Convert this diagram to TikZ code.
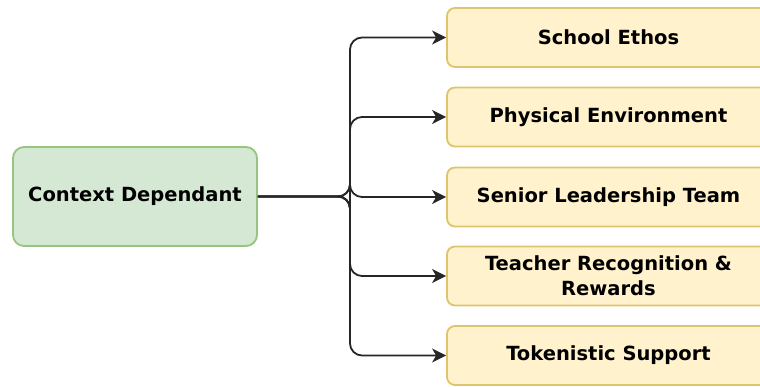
\documentclass[tikz,border=0pt]{standalone}
\usepackage{fontspec}
\setmainfont{DejaVu Sans}
\usetikzlibrary{arrows.meta}

\definecolor{ctxfill}{HTML}{D5E8D4}
\definecolor{ctxline}{HTML}{97C47E}
\definecolor{boxfill}{HTML}{FFF2CC}
\definecolor{boxline}{HTML}{E0C36E}

\begin{document}
\begin{tikzpicture}[x=1pt, y=-1pt,
    ctxnode/.style={draw=ctxline, fill=ctxfill, line width=1.8, rounded corners=11,
      minimum width=244, minimum height=99, inner sep=0,
      font=\bfseries\fontsize{19.5}{25}\selectfont},
    factor/.style={draw=boxline, fill=boxfill, line width=1.8, rounded corners=8,
      minimum width=323, minimum height=59, inner sep=0, align=center,
      font=\bfseries\fontsize{19.5}{25}\selectfont},
    link/.style={draw=black!85, line width=1.8, rounded corners=12,
      -{Stealth[length=14pt, width=14pt, inset=4pt]}}]
  \clip (0,0) rectangle (760,387);

  \node[ctxnode] (ctx) at (135,196.5) {Context Dependant};
  \coordinate (fork) at (350,196.5);

  \foreach \y/\name/\txt in {37.5/ethos/{School Ethos},
      117/environment/{Physical Environment},
      197/leadership/{Senior Leadership Team},
      276/recognition/{Teacher Recognition \&\\Rewards},
      355.5/tokenistic/{Tokenistic Support}} {%
    \node[factor] (\name) at (608.5,\y) {\txt};
    \draw[link] (ctx.east) -- (fork) |- (\name.west);
  }%
\end{tikzpicture}
\end{document}
